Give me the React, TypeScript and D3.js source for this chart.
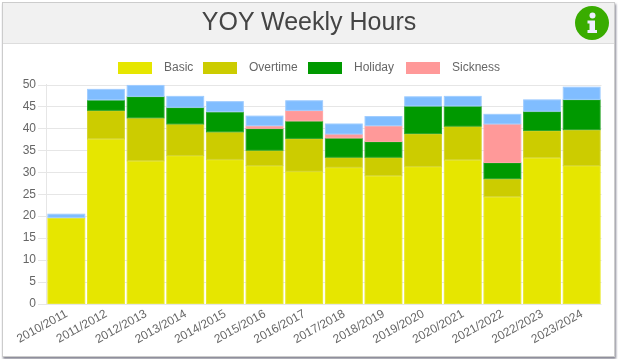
import React from "react";
import * as d3 from "d3";

const W = 618, H = 359;
const years = ["2010/2011","2011/2012","2012/2013","2013/2014","2014/2015","2015/2016","2016/2017","2017/2018","2018/2019","2019/2020","2020/2021","2021/2022","2022/2023","2023/2024"];
const basic =    [19.6,37.6,32.6,33.8,32.9,31.5,30.2,31.1,29.2,31.3,32.8,24.4,33.3,31.5];
const overtime = [0,6.5,9.8,7.2,6.3,3.5,7.5,2.3,4.2,7.5,7.7,4.1,6.2,8.2];
const holiday =  [0,2.4,4.9,3.8,4.6,5.0,4.0,4.4,3.6,6.3,4.6,3.7,4.4,6.9];
const sickness = [0,0,0,0,0,0.6,2.4,0.9,3.6,0,0,8.8,0,0];
const other =    [0.9,2.5,2.6,2.6,2.4,2.3,2.3,2.4,2.2,2.2,2.3,2.3,2.7,2.9];
const seriesNames = ["Basic","Overtime","Holiday","Sickness"];
const seriesColors = ["#e6e600","#cccc00","#009900","#ff9999","#80bdff"];
const borderColors = ["#e9e92a","#d4d42e","#2aa62a","#ffa6a6","#a0cdff"];
const seriesValues = [basic,overtime,holiday,sickness,other];
const yTicks = [0,5,10,15,20,25,30,35,40,45,50];
const legendX = [118,203,308,406];
const font = "Arial, 'Liberation Sans', sans-serif";

export default function App() {
  const x = d3.scaleBand().domain(years).range([46.5,601.5]).paddingInner(0).paddingOuter(0);
  const y = d3.scaleLinear().domain([0,50]).range([303.5,84.5]);
  const rows = years.map((yr,i)=>{ const o:any={year:yr}; seriesValues.forEach((s,k)=>{o["s"+k]=s[i];}); return o; });
  const stacked = d3.stack().keys(seriesValues.map((_,k)=>"s"+k))(rows as any);
  return (
    <svg width={W} height={H} style={{position:"fixed",left:0,top:0,display:"block"}} fontFamily={font}>
      <defs>
        <filter id="sh" x="-2%" y="-2%" width="104%" height="104%">
          <feDropShadow dx="1" dy="2" stdDeviation="0.8" floodColor="#667" floodOpacity="0.8"/>
        </filter>
      </defs>
      <rect x={2.5} y={2.5} width={612} height={354} fill="#fff" stroke="#ccc" filter="url(#sh)"/>
      <rect x={3} y={3} width={611} height={40} fill="#f1f1f1"/>
      <line x1={3} x2={614} y1={43.5} y2={43.5} stroke="#ddd"/>
      <text x={309} y={30} textAnchor="middle" fontSize={25} fill="#444">YOY Weekly Hours</text>
      <circle cx={592} cy={23} r={17} fill="#39ac00"/>
      <circle cx={592.5} cy={15.5} r={3} fill="#eef"/>
      <path d="M587.5 20.5h7.5v9.5h2v3h-9.5v-3h2v-6.5h-2z" fill="#eef"/>
      {seriesNames.map((n,i)=>(
        <g key={n}>
          <rect x={legendX[i]} y={62} width={34} height={12} fill={seriesColors[i]}/>
          <text x={legendX[i]+46} y={71} fontSize={12} fill="#666">{n}</text>
        </g>
      ))}
      {yTicks.map(t=>(
        <g key={t}>
          <line x1={38} x2={601.5} y1={Math.round(y(t))+0.5} y2={Math.round(y(t))+0.5} stroke="#e6e6e6"/>
          <text x={36} y={y(t)+3.5} textAnchor="end" fontSize={12} fill="#666">{t}</text>
        </g>
      ))}
      <line x1={46.5} x2={46.5} y1={84} y2={304} stroke="#e6e6e6"/>
      {stacked.map((s:any,k:number)=>s.map((d:any,i:number)=>{
        if(d[1]-d[0]<=0) return null;
        const bx=(x(years[i]) as number)+0.9, bw=x.bandwidth()-1.8;
        return <rect key={k+"-"+i} x={bx+0.5} y={y(d[1])+0.5} width={bw-1} height={Math.max(0,y(d[0])-y(d[1]))-0.5} fill={seriesColors[k]} stroke={borderColors[k]} strokeWidth={1}/>;
      }))}
      {years.map(yr=>{
        const cx=(x(yr) as number)+x.bandwidth()/2+2;
        return <text key={yr} transform={`translate(${cx},316) rotate(-29)`} textAnchor="end" fontSize={12} fill="#666">{yr}</text>;
      })}
    </svg>
  );
}
